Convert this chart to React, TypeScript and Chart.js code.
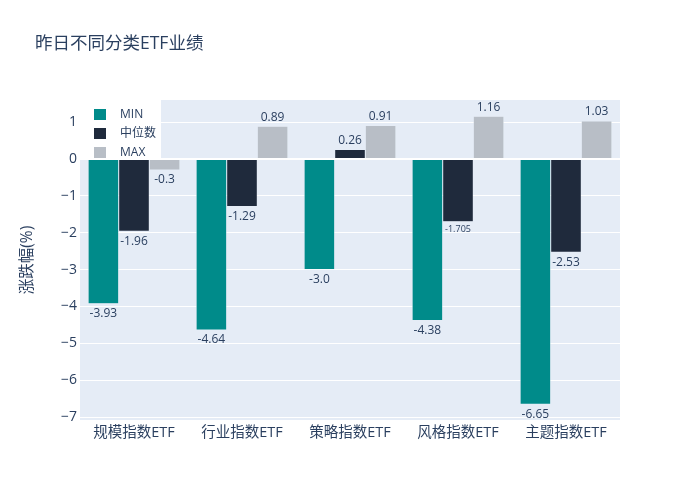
import React, { useEffect, useRef } from "react";
import { Chart, registerables } from "chart.js";

Chart.register(...registerables);

const categories = ["规模指数ETF", "行业指数ETF", "策略指数ETF", "风格指数ETF", "主题指数ETF"];
const minValues = [-3.93, -4.64, -3.0, -4.38, -6.65];
const medianValues = [-1.96, -1.29, 0.26, -1.705, -2.53];
const maxValues = [-0.3, 0.89, 0.91, 1.16, 1.03];
const minLabels = ["-3.93", "-4.64", "-3.0", "-4.38", "-6.65"];
const medianLabels = ["-1.96", "-1.29", "0.26", "-1.705", "-2.53"];
const maxLabels = ["-0.3", "0.89", "0.91", "1.16", "1.03"];
const seriesNames = ["MIN", "中位数", "MAX"];
const yTicks = [-7, -6, -5, -4, -3, -2, -1, 0, 1];
const titleText = "昨日不同分类ETF业绩";
const yTitle = "涨跌幅(%)";

const FONT = '"Open Sans", "Noto Sans CJK SC", sans-serif';
const TEXT = "#2a3f5f";
const colors = ["#008B8A", "#1F2A3C", "#B8BEC6"];
const labelSets = [minLabels, medianLabels, maxLabels];

const bgPlugin = {
  id: "bgPlugin",
  beforeDraw(chart: any) {
    const { ctx, chartArea } = chart;
    ctx.save();
    ctx.fillStyle = "#fff";
    ctx.fillRect(0, 0, chart.width, chart.height);
    ctx.fillStyle = "#E5ECF6";
    ctx.fillRect(chartArea.left, chartArea.top, chartArea.right - chartArea.left, chartArea.bottom - chartArea.top);
    ctx.restore();
  },
  afterDatasetsDraw(chart: any) {
    const { ctx } = chart;
    ctx.save();
    // legend box
    ctx.fillStyle = "#fff";
    ctx.fillRect(80, 100, 81, 59);
    seriesNames.forEach((name, i) => {
      const y = 109 + i * 19;
      ctx.fillStyle = colors[i];
      ctx.fillRect(94, y, 12, 11);
      ctx.fillStyle = TEXT;
      ctx.font = `12px ${FONT}`;
      ctx.textBaseline = "middle";
      ctx.textAlign = "left";
      ctx.fillText(name, 120, y + 6);
    });
    // data labels
    chart.data.datasets.forEach((ds: any, di: number) => {
      const meta = chart.getDatasetMeta(di);
      meta.data.forEach((el: any, i: number) => {
        const v = ds.data[i];
        const label = labelSets[di][i];
        const small = label === "-1.705";
        ctx.font = `${small ? 9 : 12}px ${FONT}`;
        ctx.fillStyle = TEXT;
        ctx.textAlign = "center";
        if (v >= 0) {
          ctx.textBaseline = "bottom";
          ctx.fillText(label, el.x, el.y - 3);
        } else {
          ctx.textBaseline = "top";
          ctx.fillText(label, el.x, el.y + (small ? 3 : 4));
        }
      });
    });
    // title
    ctx.font = `17.5px ${FONT}`;
    ctx.fillStyle = TEXT;
    ctx.textAlign = "left";
    ctx.textBaseline = "middle";
    ctx.fillText(titleText, 35, 44);
    // y title
    ctx.translate(28, 260);
    ctx.rotate(-Math.PI / 2);
    ctx.font = `15.5px ${FONT}`;
    ctx.textAlign = "center";
    ctx.fillText(yTitle, 0, 0);
    ctx.restore();
  },
};

export default function App() {
  const ref = useRef<HTMLCanvasElement>(null);
  useEffect(() => {
    document.body.style.margin = "0";
    const chart = new Chart(ref.current as HTMLCanvasElement, {
      type: "bar",
      data: {
        labels: categories,
        datasets: [minValues, medianValues, maxValues].map((d, i) => ({
          label: seriesNames[i],
          data: d,
          backgroundColor: colors[i],
          borderColor: "#E5ECF6",
          borderWidth: 0.5,
          barPercentage: 1,
          categoryPercentage: 0.85,
        })),
      },
      options: {
        animation: false,
        responsive: false,
        maintainAspectRatio: false,
        layout: { padding: { left: 0, right: 80, top: 100, bottom: 0 } },
        plugins: { legend: { display: false }, tooltip: { enabled: false }, title: { display: false } },
        scales: {
          x: {
            grid: { display: false, drawTicks: false },
            border: { display: false },
            ticks: { color: TEXT, font: { family: FONT, size: 14.5 }, padding: 4 },
            afterFit(scale: any) { scale.height = 80; },
          },
          y: {
            min: -7.08,
            max: 1.6,
            afterBuildTicks(scale: any) { scale.ticks = yTicks.map((v) => ({ value: v })); },
            grid: {
              color: "#ffffff",
              lineWidth: (c: any) => (c.tick && c.tick.value === 0 ? 2 : 1),
              drawTicks: false,
            },
            border: { display: false },
            ticks: {
              color: TEXT,
              font: { family: FONT, size: 14 },
              padding: 3,
              callback: (v: any) => (v < 0 ? "\u2212" + Math.abs(v) : String(v)),
            },
            afterFit(scale: any) { scale.width = 80; },
          },
        },
      },
      plugins: [bgPlugin],
    });
    return () => chart.destroy();
  }, []);
  return (
    <div style={{ position: "absolute", left: 0, top: 0, width: 700, height: 500 }}>
      <canvas ref={ref} width={700} height={500} style={{ width: 700, height: 500 }} />
    </div>
  );
}
